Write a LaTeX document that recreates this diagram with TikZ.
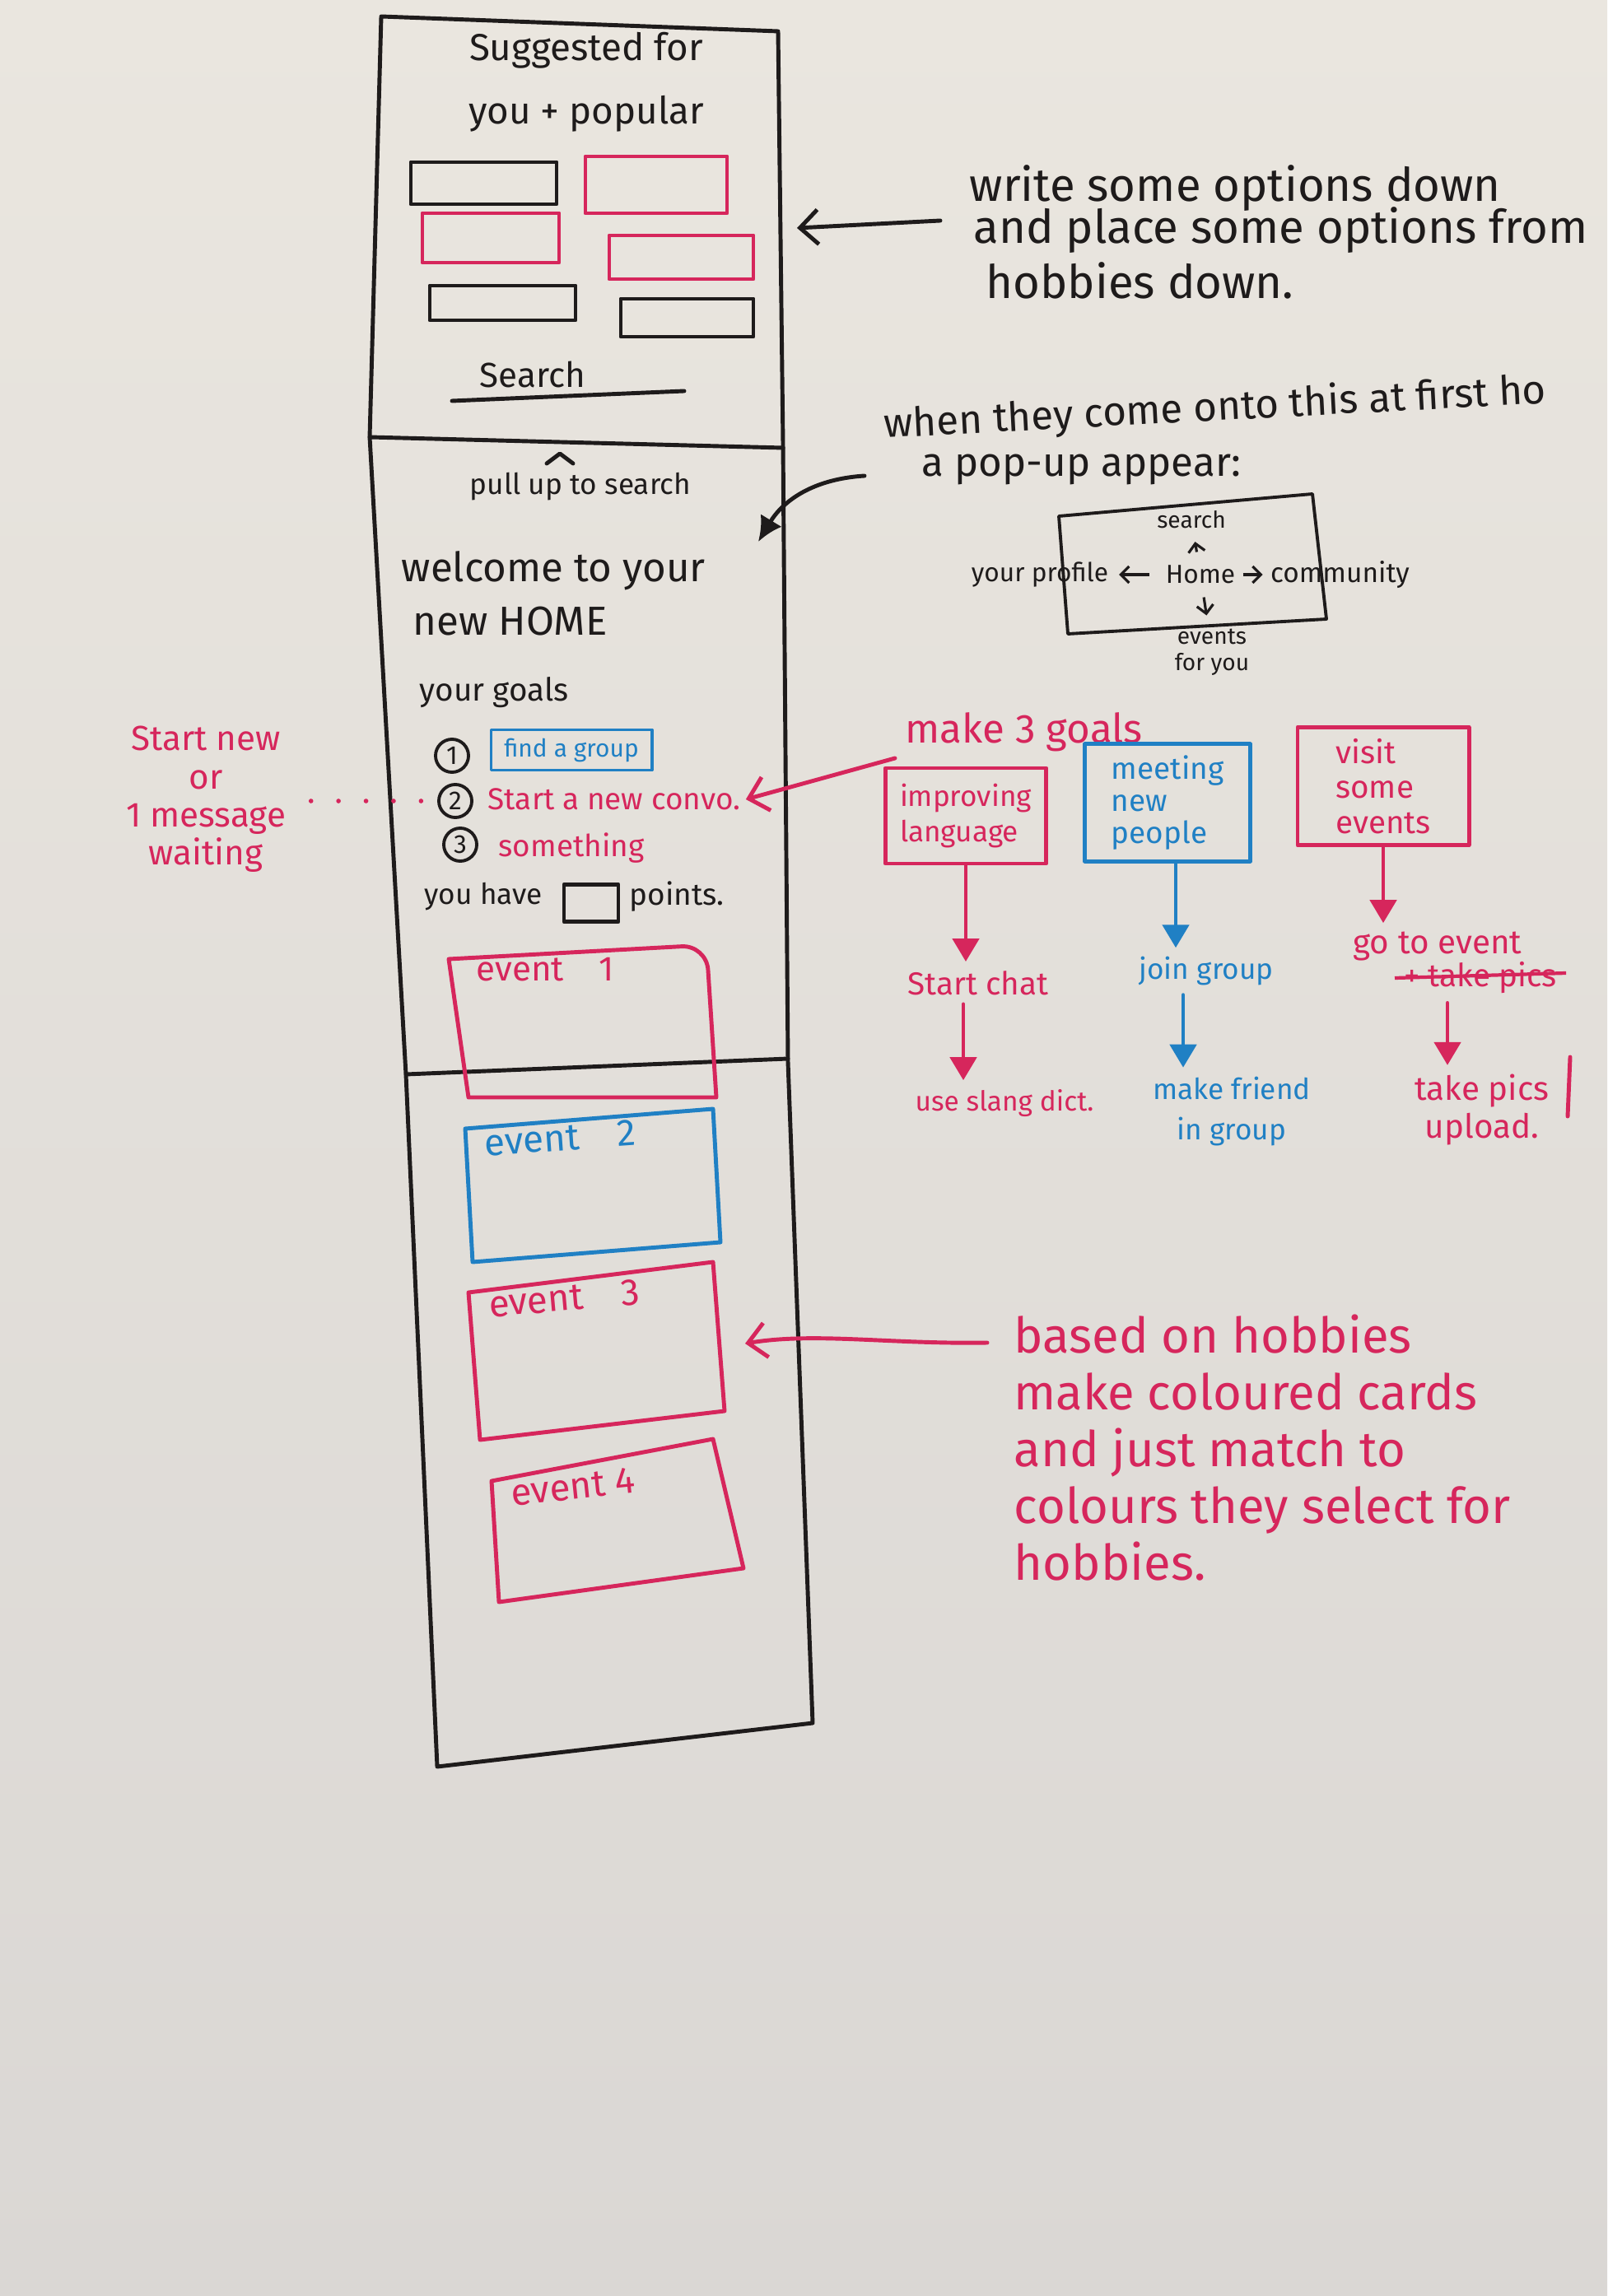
\documentclass[tikz,border=0pt]{standalone}
\usepackage{fontspec}
\setmainfont{Fira Sans}
\usetikzlibrary{arrows.meta,positioning,calc}

\definecolor{boardtop}{RGB}{234,230,223}
\definecolor{boardlow}{RGB}{218,215,212}
\definecolor{ink}{RGB}{30,27,27}
\definecolor{pinkink}{RGB}{214,38,92}
\definecolor{blueink}{RGB}{32,128,196}

\tikzset{
    pen/.style={line width=1.4pt, line cap=round, line join=round},
    hand/.style={inner sep=0pt, font=\fontsize{#1}{#1}\selectfont},
    hand/.default=12,
    filltip/.style={-{Triangle[length=0.28cm,width=0.32cm]}},
    barb/.style={-{Straight Barb[length=0.22cm,width=0.42cm]}},
    smallbarb/.style={-{Straight Barb[length=0.1cm,width=0.2cm]}},
    goalbox/.style={draw, pen, align=left, inner sep=4pt},
}

\begin{document}
\begin{tikzpicture}[x=0.01cm, y=-0.01cm]
    \def\W{1952} % width of the board
    \def\H{2789} % height of the board

    % Board
    \useasboundingbox (0,0) rectangle (\W,\H);
    \shade[top color=boardtop, bottom color=boardlow] (0,0) rectangle (\W,\H);

    % Phone outline and its three screens
    \draw[pen,ink] (463,20) -- (945,38) -- (951,540) -- (957,1290) -- (987,2093)
        -- (531,2146) -- (493,1305) -- (449,531) -- cycle;
    \draw[pen,ink] (449,531) -- (951,544);
    \draw[pen,ink] (493,1305) -- (957,1286);

    % Screen 1: suggested
    \node[hand=13,ink,align=center] (sugg) at (712,100) {Suggested for\\[9pt]you + popular};
    \foreach \c/\xa/\ya/\xb/\yb in {ink/499/197/676/248, pinkink/711/190/883/259,
        pinkink/513/259/679/319, pinkink/740/286/915/339, ink/522/347/699/389, ink/754/363/915/409} {
        \draw[pen,\c] (\xa,\ya) rectangle (\xb,\yb);
    }
    \node[hand=12,ink] (srch) at (647,455) {Search};
    \draw[pen,ink] (549,487) -- (831,475);

    % Screen 2: home
    \draw[pen,ink] (664,563) -- (680,551) -- (696,563);
    \node[hand=10,ink,anchor=west] (pull) at (570,591) {pull up to search};
    \node[hand=14,ink,anchor=west] (welc) at (487,693) {welcome to your};
    \node[hand=14,ink,anchor=west] (newhome) at (501,755) {new HOME};
    \node[hand=11,ink,anchor=west] (ygoals) at (509,841) {your goals};
    \node[hand=9,ink,draw,circle,pen,line width=1.1pt,minimum size=0.4cm,inner sep=0pt] (num1) at (549,918) {1};
    \node[hand=9,ink,draw,circle,pen,line width=1.1pt,minimum size=0.4cm,inner sep=0pt] (num2) at (553,973) {2};
    \node[hand=9,ink,draw,circle,pen,line width=1.1pt,minimum size=0.4cm,inner sep=0pt] (num3) at (559,1026) {3};
    \node[hand=8.5,blueink,draw,pen,line width=1.1pt,minimum width=1.95cm,minimum height=0.49cm] (findgrp) at (694,911) {find a group};
    \node[hand=10.5,pinkink,anchor=west] (convo) at (592,971) {Start a new convo.};
    \node[hand=10.5,pinkink,anchor=west] (smth) at (605,1030) {something};
    \node[hand=10,ink,anchor=west] (have) at (515,1089) {you have};
    \node[ink,draw,pen,minimum width=0.66cm,minimum height=0.45cm,inner sep=0pt] (ptsbox) at (718,1097) {};
    \node[hand=10.5,ink,anchor=west] (pts) at (764,1089) {points.};

    % Screen 3: event cards
    \draw[pen,pinkink] (569,1333) -- (545,1165) [rounded corners=0.3cm] -- (858,1148) [sharp corners] -- (870,1333) -- cycle;
    \node[hand=12,pinkink,anchor=west] (ev1) at (578,1178) {event\quad 1};
    \foreach \c/\ax/\ay/\bx/\by/\cx/\cy/\dx/\dy in {blueink/565/1371/866/1347/875/1509/574/1533,
        pinkink/569/1570/866/1533/880/1714/583/1749, pinkink/597/1799/866/1748/903/1905/606/1946} {
        \draw[pen,\c] (\ax,\ay) -- (\bx,\by) -- (\cx,\cy) -- (\dx,\dy) -- cycle;
    }
    \node[hand=13,blueink,anchor=west,rotate=4] (ev2) at (588,1389) {event\quad 2};
    \node[hand=13,pinkink,anchor=west,rotate=5] (ev3) at (593,1585) {event\quad 3};
    \node[hand=13,pinkink,anchor=west,rotate=6] (ev4) at (620,1814) {event 4};
    \coordinate (ev3tip) at (905,1632);

    % Note on screen 1
    \node[hand=16,ink,anchor=west] (opt1) at (1177,229) {write some options down};
    \node[hand=16,ink,anchor=west] (opt2) at (1182,280) {and place some options from};
    \node[hand=16,ink,anchor=west] (opt3) at (1197,341) {hobbies down.};
    \coordinate (scrA) at (968,277);
    \draw[pen,ink,barb] ([shift={(-40,-12)}]opt2.west) -- (scrA);

    % Note on the pop-up
    \node[hand=14,ink,anchor=west,rotate=3] (first1) at (1073,518) {when they come onto this at first ho};
    \node[hand=14,ink,anchor=west] (first2) at (1119,570) {a pop-up appear:};
    \coordinate (scrB) at (921,658);
    \draw[pen,ink,-{Latex[length=0.3cm,width=0.3cm]}] ([shift={(-69,8)}]first2.west)
        .. controls (985,582) and (950,610) .. (scrB);

    % Pop-up sketch
    \draw[pen,ink,line width=1.1pt] (1286,627) -- (1594,600) -- (1611,752) -- (1297,770) -- cycle;
    \node[hand=9,ink,inner sep=1.5pt] (home) at (1458,698) {Home};
    \node[hand=8,ink,inner sep=1.5pt] (psrch) at (1447,631) {search};
    \node[hand=9,ink,inner sep=1.5pt,anchor=east] (prof) at (1352,698) {your profile};
    \node[hand=9.5,ink,inner sep=1.5pt,anchor=west] (comm) at (1537,698) {community};
    \node[hand=8,ink,inner sep=1.5pt,align=center,font=\fontsize{8}{9}\selectfont] (pev) at (1472,792) {events\\for you};
    \draw[ink,line width=0.9pt,smallbarb,shorten >=2pt,shorten <=4pt] (home) -- (prof);
    \draw[ink,line width=0.9pt,smallbarb,shorten >=1pt,shorten <=1pt] (home) -- (comm);
    \draw[ink,line width=0.9pt,smallbarb,shorten >=3pt,shorten <=3pt] (home) -- (psrch);
    \draw[ink,line width=0.9pt,smallbarb,shorten >=3pt,shorten <=3pt] (home) -- (pev);

    % Left note
    \node[pinkink,inner sep=0pt,align=center,font=\fontsize{12}{13.2}\selectfont] (msg) at (250,971)
        {Start new\\or\\1 message\\waiting};
    \draw[pinkink,line width=1.6pt,line cap=round,dash pattern=on 0pt off 9.5pt,shorten <=3mm] (msg.east |- num2) -- (num2);

    % Three goals
    \node[hand=14,pinkink,anchor=west] (goals) at (1099,889) {make 3 goals};
    \draw[pen,pinkink,barb] ([shift={(-12,32)}]goals.west) -- ([shift={(6,0)}]convo.east);
    \node[goalbox,pinkink,minimum width=1.95cm,minimum height=1.16cm,
        font=\fontsize{10}{12}\selectfont] (glang) at (1173,991) {improving\\language};
    \node[goalbox,blueink,minimum width=2.01cm,minimum height=1.32cm,
        font=\fontsize{10.5}{11}\selectfont] (gmeet) at (1418,975) {meeting\\new\\people};
    \node[goalbox,pinkink,minimum width=2.08cm,minimum height=1.35cm,
        font=\fontsize{11}{12}\selectfont] (gvisit) at (1680,955) {visit\\some\\events};

    % Steps under each goal
    \node[hand=11,pinkink,inner sep=3pt] (chat) at (1188,1194) {Start chat};
    \node[hand=9.5,pinkink,inner sep=3pt] (dict) at (1220,1340) {use slang dict.};
    \node[hand=10,blueink,inner sep=3pt] (join) at (1465,1180) {join group};
    \node[blueink,inner sep=3pt,align=center,font=\fontsize{10}{14}\selectfont] (frnd) at (1496,1350) {make friend\\in group};
    \node[hand=11.5,pinkink,inner sep=3pt] (goev) at (1746,1150) {go to event};
    \node[hand=11,pinkink,inner sep=3pt] (strk) at (1798,1188) {+ take pics};
    \draw[pinkink,line width=1.2pt] (strk.west) -- ([shift={(0,-6)}]strk.east);
    \node[pinkink,inner sep=3pt,align=center,font=\fontsize{11.5}{13}\selectfont] (upl) at (1800,1348) {take pics\\upload.};
    \draw[pen,pinkink] (1907,1284) -- (1904,1356);

    \draw[pen,pinkink,filltip] (glang) -- (glang.south |- chat.north);
    \draw[pen,pinkink,filltip] ([shift={(-18,0)}]chat.south) -- ([shift={(-18,0)}]chat.south |- dict.north);
    \draw[pen,blueink,filltip] ([shift={(10,0)}]gmeet.south) -- ([shift={(10,0)}]gmeet.south |- join.north);
    \draw[pen,blueink,filltip] ([shift={(-28,0)}]join.south) -- ([shift={(-28,0)}]join.south |- frnd.north);
    \draw[pen,pinkink,filltip] (gvisit) -- (gvisit.south |- goev.north);
    \draw[pen,pinkink,filltip] ([shift={(-40,0)}]strk.south) -- ([shift={(-40,0)}]strk.south |- upl.north);

    % Note on the cards
    \node[pinkink,inner sep=0pt,anchor=north west,align=left,font=\fontsize{17}{19.6}\selectfont] (hob) at (1231,1596)
        {based on hobbies\\make coloured cards\\and just match to\\colours they select for\\hobbies.};
    \draw[pen,pinkink,barb] ([shift={(-32,35)}]hob.north west) .. controls (1080,1633) and (990,1618) .. (ev3tip);
\end{tikzpicture}
\end{document}
